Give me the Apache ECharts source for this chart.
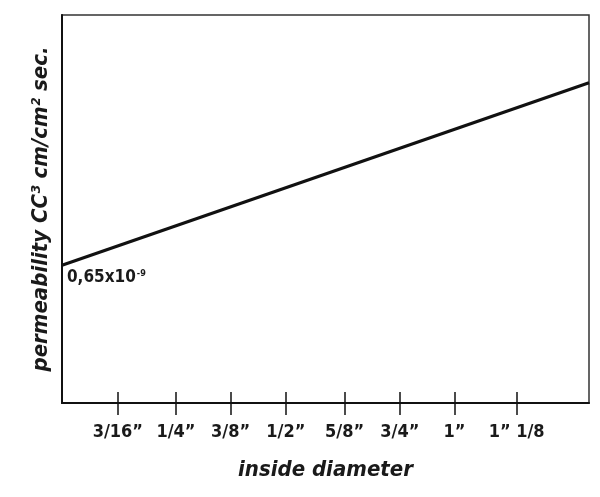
<!DOCTYPE html>
<html>
<head>
<meta charset="utf-8">
<script src="https://cdn.jsdelivr.net/npm/echarts@6/dist/echarts.min.js"></script>
<style>html,body{margin:0;padding:0;background:#fff}#c{width:600px;height:497px}</style>
</head>
<body>
<div id="c"></div>
<script>
var categories = ['3/16\u201D', '1/4\u201D', '3/8\u201D', '1/2\u201D', '5/8\u201D', '3/4\u201D', '1\u201D', '1\u201D 1/8'];
var tickPositions = [0.98, 2.0, 2.96, 3.93, 4.96, 5.93, 6.89, 7.98];
var lineX = [0, 9.25];
var lineY = [0.65, 1.51];
var startLabel = '0,65x10';
var startLabelExp = '-9';

var FONT = "'Liberation Sans Narrow','DejaVu Sans Condensed','Roboto Condensed',sans-serif";
var chart = echarts.init(document.getElementById('c'), null, {renderer: 'canvas'});
var data = lineX.map(function (x, i) { return [x, lineY[i]]; });
data[0] = {
  value: data[0],
  symbol: 'circle', symbolSize: 0.1,
  label: {
    show: true, position: [5, 4], align: 'left', verticalAlign: 'top',
    formatter: '{a|' + startLabel + '}{b|' + startLabelExp + '}',
    rich: {
      a: {fontFamily: FONT, fontWeight: 'bold', fontSize: 17, color: '#1a1a1a'},
      b: {fontFamily: FONT, fontWeight: 'bold', fontSize: 9, color: '#1a1a1a', verticalAlign: 'top', padding: [0, 0, 8, 1]}
    }
  }
};
function labelFor(v) {
  for (var i = 0; i < tickPositions.length; i++) {
    if (Math.abs(tickPositions[i] - v) < 1e-6) return categories[i];
  }
  return '';
}
var option = {
  animation: false,
  grid: {left: 62, right: 11, top: 15, bottom: 94, show: true, borderColor: '#333', borderWidth: 1.5},
  xAxis: [{
    type: 'value', min: 0, max: 9.25, position: 'bottom',
    splitLine: {show: false},
    axisLine: {show: true, lineStyle: {color: '#111', width: 2}},
    axisTick: {show: true, customValues: tickPositions, length: 12, lineStyle: {color: '#111', width: 1.5}},
    axisLabel: {
      customValues: tickPositions, margin: 20,
      fontFamily: FONT, fontWeight: 'bold', fontSize: 18, color: '#1a1a1a',
      formatter: labelFor
    },
    name: 'inside diameter', nameLocation: 'middle', nameGap: 56,
    nameTextStyle: {fontFamily: FONT, fontWeight: 'bold', fontStyle: 'italic', fontSize: 22, color: '#1a1a1a'}
  }, {
    type: 'value', min: 0, max: 9.25, position: 'bottom',
    splitLine: {show: false},
    axisLine: {show: false},
    axisTick: {show: true, inside: true, customValues: tickPositions, length: 11, lineStyle: {color: '#111', width: 1.5}},
    axisLabel: {show: false}
  }],
  yAxis: {
    type: 'value', min: 0, max: 1.83,
    splitLine: {show: false},
    axisLine: {show: true, lineStyle: {color: '#111', width: 2}},
    axisTick: {show: false},
    axisLabel: {show: false},
    name: 'permeability CC\u00B3 cm/cm\u00B2 sec.', nameLocation: 'middle', nameGap: 10,
    nameTextStyle: {fontFamily: FONT, fontWeight: 'bold', fontStyle: 'italic', fontSize: 22, color: '#1a1a1a'}
  },
  series: [{
    type: 'line', data: data, showSymbol: true, symbol: 'none',
    lineStyle: {color: '#111', width: 3.2},
    silent: true
  }]
};
chart.setOption(option);
</script>
</body>
</html>
